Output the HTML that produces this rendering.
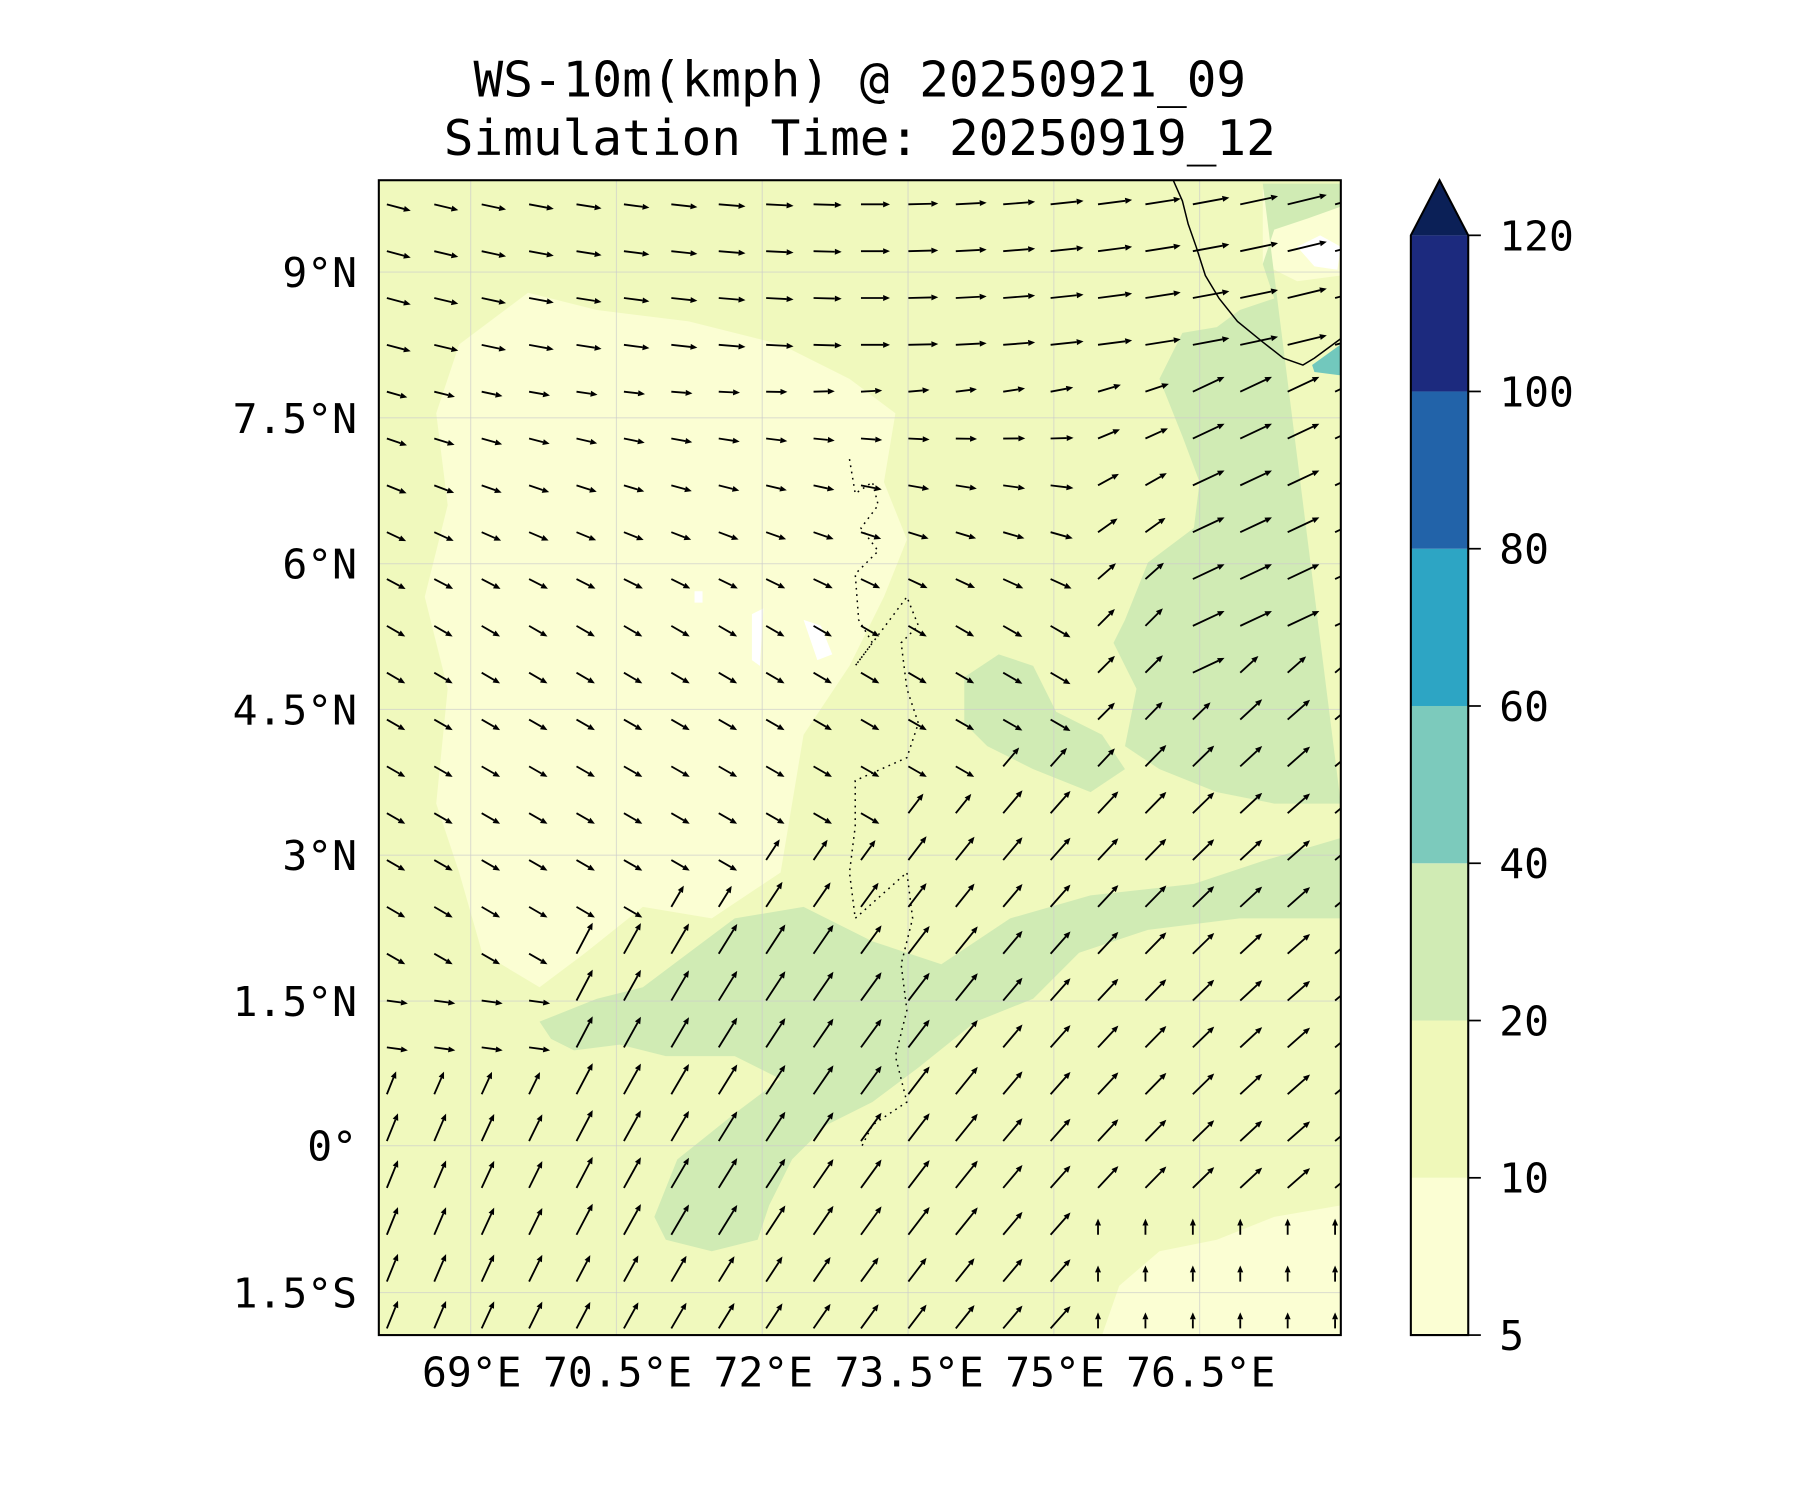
<!DOCTYPE html>
<html><head><meta charset="utf-8"><style>
html,body{margin:0;padding:0;background:#fff;}
svg{display:block;}
text{font-family:"DejaVu Sans Mono","Liberation Mono",monospace;fill:#000;}
</style></head><body>
<svg id="s" width="1800" height="1500" viewBox="0 0 1568 1306.67" xmlns="http://www.w3.org/2000/svg">
<defs><clipPath id="c"><rect x="330" y="157" width="838" height="1006"/></clipPath></defs>
<text x="749" y="84" font-size="43" text-anchor="middle">WS-10m(kmph) @ 20250921_09</text>
<text x="749" y="135" font-size="43" text-anchor="middle">Simulation Time: 20250919_12</text>
<g clip-path="url(#c)">
<rect x="330" y="157" width="838" height="1006" fill="#f0f9bd"/>
<path d="M400,300 L460,255 L520,270 L600,280 L680,300 L740,330 L780,360 L770,420 L790,470 L770,520 L740,580 L700,640 L690,700 L680,760 L620,800 L560,790 L510,830 L470,860 L420,830 L400,760 L380,700 L390,600 L370,520 L390,440 L380,360 Z" fill="#fbfed3"/>
<path d="M960,1163 L975,1120 L1010,1090 L1060,1080 L1110,1060 L1168,1050 L1168,1163 Z" fill="#fbfed3"/>
<path d="M1100,165 L1150,160 L1168,170 L1168,240 L1130,245 L1100,230 Z" fill="#fbfed3"/>
<path d="M1100,160 L1168,160 L1168,180 L1140,190 L1110,200 L1100,230 L1110,260 L1080,270 L1060,285 L1030,290 L1010,330 L1030,380 L1045,420 L1040,460 L1000,490 L980,540 L970,560 L990,600 L980,650 L1010,670 L1060,690 L1110,700 L1168,700 Z" fill="#d0ebb4"/>
<path d="M840,590 L870,570 L900,580 L920,620 L960,640 L980,670 L950,690 L900,670 L860,650 L840,630 Z" fill="#d0ebb4"/>
<path d="M470,890 L520,870 L560,860 L600,830 L640,800 L700,790 L760,820 L820,840 L880,800 L950,780 L1040,770 L1100,750 L1168,730 L1168,800 L1080,800 L1000,810 L940,830 L900,870 L850,890 L800,930 L760,960 L720,980 L690,1010 L670,1050 L660,1080 L620,1090 L580,1080 L570,1060 L590,1010 L640,970 L680,940 L640,920 L580,920 L540,910 L500,915 L480,905 Z" fill="#d0ebb4"/>
<path d="M1143,318 L1168,300 L1168,327 L1145,324 Z" fill="#72c8bd"/>
<path d="M1130,215 L1150,205 L1168,215 L1165,235 L1145,232 Z" fill="#fff"/>
<path d="M655,535 L665,530 L662,580 L655,575 Z M700,540 L715,545 L725,570 L712,575 Z M605,515 L612,515 L612,525 L605,525 Z" fill="#fff"/>
<g stroke="#ccc" stroke-opacity="0.6" stroke-width="1">
<line x1="410" y1="157" x2="410" y2="1163"/><line x1="537" y1="157" x2="537" y2="1163"/><line x1="664" y1="157" x2="664" y2="1163"/><line x1="791" y1="157" x2="791" y2="1163"/><line x1="918" y1="157" x2="918" y2="1163"/><line x1="1045" y1="157" x2="1045" y2="1163"/>
<line x1="330" y1="237" x2="1168" y2="237"/><line x1="330" y1="364" x2="1168" y2="364"/><line x1="330" y1="491" x2="1168" y2="491"/><line x1="330" y1="618" x2="1168" y2="618"/><line x1="330" y1="745" x2="1168" y2="745"/><line x1="330" y1="872" x2="1168" y2="872"/><line x1="330" y1="998" x2="1168" y2="998"/><line x1="330" y1="1126" x2="1168" y2="1126"/>
</g>
<path d="M1022,157 L1030,175 L1035,195 L1042,215 L1050,240 L1062,260 L1078,280 L1100,298 L1118,312 L1135,318 L1145,312 L1168,295" fill="none" stroke="#000" stroke-width="1.3"/>
<path d="M740,400 L745,430 L760,420 L765,440 L750,460 L765,480 L745,500 L748,540 L760,560 L745,580 L790,520 L800,545 L785,560 L790,600 L800,630 L790,660 L745,680 L745,720 L740,760 L745,800 L790,760 L795,800 L785,840 L790,880 L780,920 L790,960 L760,980 L750,1000" fill="none" stroke="#000" stroke-width="1.3" stroke-dasharray="1.5,4"/>
<g id="arrows"></g>
</g>
<rect x="330" y="157" width="838" height="1006" fill="none" stroke="#000" stroke-width="1.8"/>
<g font-size="36">
<text x="411" y="1208" text-anchor="middle">69°E</text><text x="538" y="1208" text-anchor="middle">70.5°E</text><text x="665" y="1208" text-anchor="middle">72°E</text><text x="792" y="1208" text-anchor="middle">73.5°E</text><text x="919" y="1208" text-anchor="middle">75°E</text><text x="1046" y="1208" text-anchor="middle">76.5°E</text>
<g text-anchor="end"><text x="311" y="250">9°N</text><text x="311" y="377">7.5°N</text><text x="311" y="504">6°N</text><text x="311" y="631">4.5°N</text><text x="311" y="758">3°N</text><text x="311" y="885">1.5°N</text><text x="311" y="1011">0°</text><text x="311" y="1139">1.5°S</text></g>
</g>
<g>
<rect x="1229" y="1026" width="50" height="137" fill="#fbfed3"/>
<rect x="1229" y="889" width="50" height="137" fill="#eff8b9"/>
<rect x="1229" y="752" width="50" height="137" fill="#d0ebb4"/>
<rect x="1229" y="615" width="50" height="137" fill="#7ccabc"/>
<rect x="1229" y="478" width="50" height="137" fill="#2da5c4"/>
<rect x="1229" y="341" width="50" height="137" fill="#2263a9"/>
<rect x="1229" y="205" width="50" height="136" fill="#1c2a7e"/>
<path d="M1229,205 L1254,157 L1279,205 Z" fill="#0b2057"/>
<path d="M1229,1163 L1229,205 L1254,157 L1279,205 L1279,1163 Z" fill="none" stroke="#000" stroke-width="1.8"/>
<g stroke="#000" stroke-width="1.5"><line x1="1279" y1="1163" x2="1290" y2="1163"/><line x1="1279" y1="1026" x2="1290" y2="1026"/><line x1="1279" y1="889" x2="1290" y2="889"/><line x1="1279" y1="752" x2="1290" y2="752"/><line x1="1279" y1="615" x2="1290" y2="615"/><line x1="1279" y1="478" x2="1290" y2="478"/><line x1="1279" y1="341" x2="1290" y2="341"/><line x1="1279" y1="205" x2="1290" y2="205"/></g>
<g font-size="36"><text x="1306" y="1176">5</text><text x="1306" y="1039">10</text><text x="1306" y="902">20</text><text x="1306" y="765">40</text><text x="1306" y="628">60</text><text x="1306" y="491">80</text><text x="1306" y="354">100</text><text x="1306" y="218">120</text></g>
</g>
</svg>
<script>
(function(){
var g=document.getElementById('arrows'),s='';
for(var i=0;i<21;i++)for(var j=0;j<25;j++){
 var x=337+i*41.3,y=178+j*40.8,fx=i/20;
 var yb=x<500?950:820-(x-480)*0.4; var ang,sp;
 if(y<330){ang=-15+30*fx;sp=0.45+0.5*fx*fx;}
 else if(y<yb){var t=Math.min(1,(y-330)/200);ang=(-15+40*fx)*(1-t)+(-30+ (fx>0.7?75:0))*t; if(y>850&&x<500)ang=-8; sp=0.35+0.5*Math.max(0,fx-0.6);}
 else {ang=68-28*fx; sp=0.6; var d=(y-yb); if(d<40)sp=0.45;
   if(x>500&&x<850&&y<1100&&y>820)sp=0.75;
   if(y>1040&&x>950){ang=90;sp=0.2;}}
 if(x>1000&&y>330&&y<yb){ang=25;sp=0.75;}
 var L=8+30*sp,a=ang*Math.PI/180,dx=Math.cos(a),dy=-Math.sin(a);
 var x2=x+dx*L,y2=y+dy*L,h=6,w=2.6;
 var bx=x2-dx*h,by=y2-dy*h;
 s+='<line x1="'+x.toFixed(1)+'" y1="'+y.toFixed(1)+'" x2="'+bx.toFixed(1)+'" y2="'+by.toFixed(1)+'" stroke="#000" stroke-width="1.6"/>';
 s+='<path d="M'+x2.toFixed(1)+','+y2.toFixed(1)+' L'+(bx-dy*w).toFixed(1)+','+(by+dx*w).toFixed(1)+' L'+(bx+dy*w).toFixed(1)+','+(by-dx*w).toFixed(1)+'Z" fill="#000"/>';
}
g.innerHTML=s;
})();
</script>
</body></html>
